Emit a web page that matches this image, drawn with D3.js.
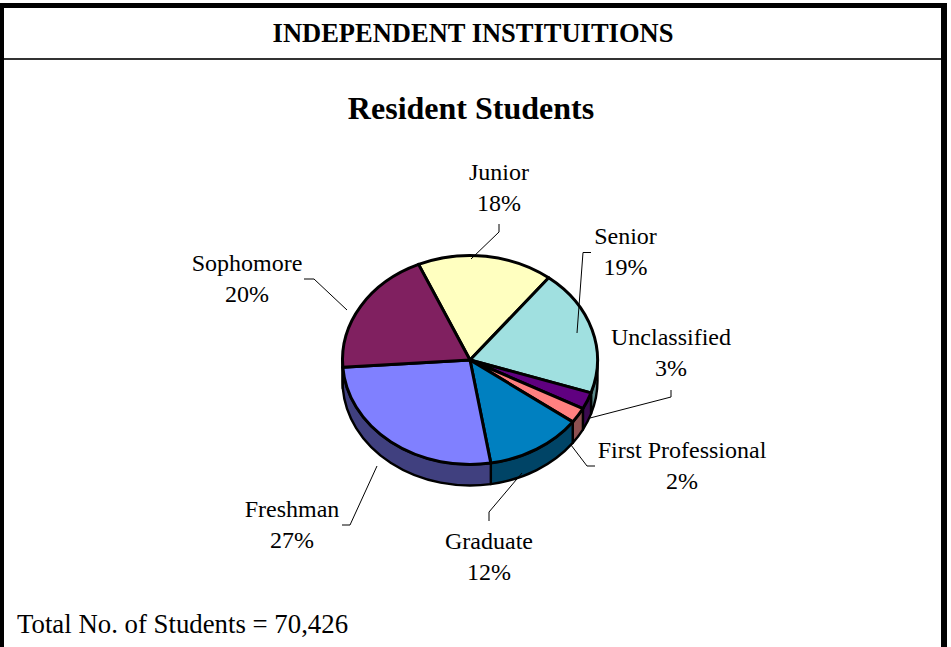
<!DOCTYPE html>
<html>
<head>
<meta charset="utf-8">
<script src="https://cdn.jsdelivr.net/npm/d3@7/dist/d3.min.js"></script>
<style>
html,body{margin:0;padding:0;background:#fff;overflow:hidden}
text{font-family:"Liberation Serif",serif;fill:#000}
</style>
</head>
<body>
<script>
// Data, clockwise from the Junior slice
const categories = ["Junior","Senior","Unclassified","First Professional","Graduate","Freshman","Sophomore"];
const shares = [17.2,19.5,2.6,2.4,12.3,26.5,19.5];
const percentLabels = ["18%","19%","3%","2%","12%","27%","20%"];
const topColors = ["#ffffc0","#a0e0e0","#600080","#ff8080","#0080c0","#8080ff","#802060"];
const sideColors = ["#80806a","#5c8a8a","#3a0a50","#8c5050","#004466","#40407f","#401030"];
const headerText = "INDEPENDENT INSTITUITIONS";
const titleText = "Resident Students";
const footerText = "Total No. of Students = 70,426";

// Layout
const W = 951, H = 647;
const cx = 470, cy = 360, rx = 127.5, ry = 104.5, depth = 21;
const startDeg = -23.8;
const labelLayout = [
  {x:499, y:180, leader:[[471,259],[499,232],[499,224]]},
  {x:625.5, y:244, leader:[[577,333],[583,252.5],[591,252.5]]},
  {x:671, y:345, leader:[[590,418],[671,397],[671,390]]},
  {x:682, y:458, leader:[[571,445],[587,466],[595,466]]},
  {x:489, y:549, leader:[[522,473],[489,512],[489,521]]},
  {x:292, y:517, leader:[[377,466],[350,525],[342,525]]},
  {x:247, y:271, leader:[[347,310],[314,279],[304,279]]}
];

const svg = d3.select("body").append("svg").attr("width",W).attr("height",H).style("display","block");

// Frame
svg.append("rect").attr("x",0).attr("y",3).attr("width",947).attr("height",H).attr("fill","#000");
svg.append("rect").attr("x",4).attr("y",8).attr("width",937).attr("height",H).attr("fill","#fff");
svg.append("rect").attr("x",4).attr("y",58).attr("width",937).attr("height",2).attr("fill","#333");

svg.append("text").attr("x",473).attr("y",41.5).attr("text-anchor","middle")
  .attr("font-size",26.5).attr("font-weight","bold").text(headerText);
svg.append("text").attr("x",471).attr("y",119).attr("text-anchor","middle")
  .attr("font-size",32).attr("font-weight","bold").text(titleText);
svg.append("text").attr("x",17).attr("y",633).attr("font-size",26.8).text(footerText);

// Pie
const pie = d3.pie().sort(null)
  .startAngle(startDeg*Math.PI/180)
  .endAngle((startDeg+360)*Math.PI/180);
const slices = pie(shares);
const px = d3.scaleLinear().domain([-1,1]).range([cx-rx,cx+rx]);
const py = d3.scaleLinear().domain([-1,1]).range([cy-ry,cy+ry]);
const pt = (a,dy=0)=>[px(Math.sin(a)),py(-Math.cos(a))+dy];

// Front walls: only the part of each slice between 90 and 270 degrees shows
const walls = svg.append("g");
slices.forEach((s,i)=>{
  [0,2*Math.PI].forEach(shift=>{
    const a0 = Math.max(s.startAngle+shift,Math.PI/2);
    const a1 = Math.min(s.endAngle+shift,3*Math.PI/2);
    if(a1<=a0) return;
    const [x0,y0]=pt(a0), [x1,y1]=pt(a1);
    const large = a1-a0>Math.PI?1:0;
    const d = `M${x0},${y0}A${rx},${ry} 0 ${large} 1 ${x1},${y1}`+
              `L${x1},${y1+depth}A${rx},${ry} 0 ${large} 0 ${x0},${y0+depth}Z`;
    walls.append("path").attr("d",d).attr("fill",sideColors[i])
      .attr("stroke","#000").attr("stroke-width",2.4).attr("stroke-linejoin","round");
  });
});

// Top face
const arc = d3.arc().innerRadius(0).outerRadius(rx);
svg.append("g").attr("transform",`translate(${cx},${cy}) scale(1,${ry/rx})`)
  .selectAll("path").data(slices).join("path")
  .attr("d",arc)
  .attr("fill",(d,i)=>topColors[i])
  .attr("stroke","#000").attr("stroke-width",3).attr("stroke-linejoin","round")
  .attr("vector-effect","non-scaling-stroke");

// Leaders and labels
const line = d3.line();
svg.append("g").selectAll("path").data(labelLayout).join("path")
  .attr("d",d=>line(d.leader)).attr("fill","none").attr("stroke","#000").attr("stroke-width",1);

const labels = svg.append("g").attr("font-size",24).attr("text-anchor","middle");
categories.forEach((c,i)=>{
  const l = labelLayout[i];
  labels.append("text").attr("x",l.x).attr("y",l.y).text(c);
  labels.append("text").attr("x",l.x).attr("y",l.y+31).text(percentLabels[i]);
});
</script>
</body>
</html>
